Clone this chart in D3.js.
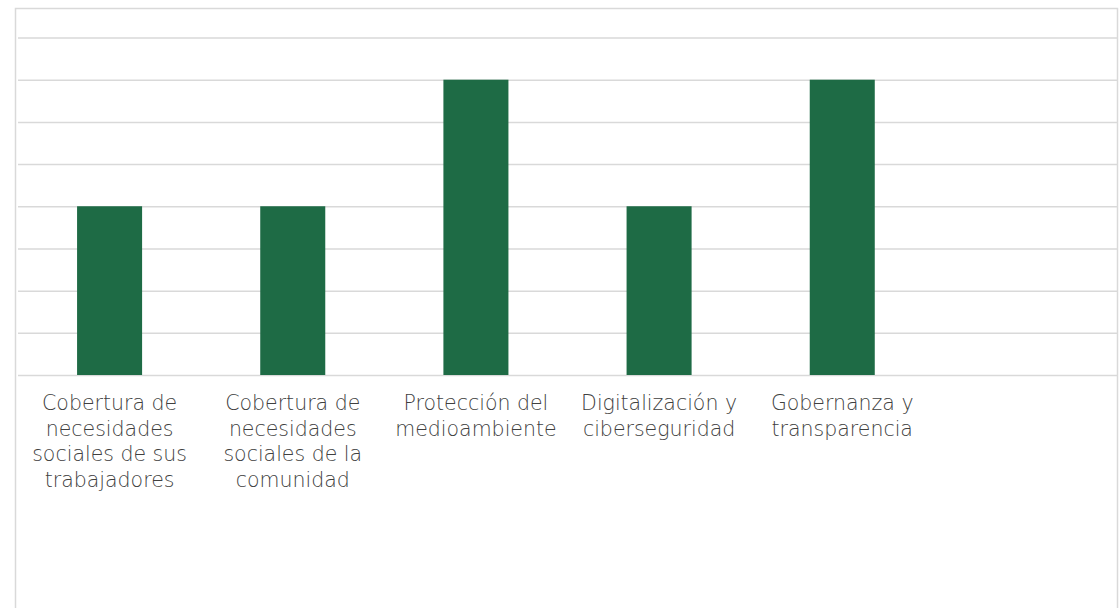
<!DOCTYPE html>
<html>
<head>
<meta charset="utf-8">
<script src="https://cdn.jsdelivr.net/npm/d3@7"></script>
<style>
  html, body { margin: 0; padding: 0; background: #fff; }
  svg { display: block; }
  .tick-label { font-family: "DejaVu Sans", sans-serif; font-weight: 200; fill: #404040; }
</style>
</head>
<body>
<svg class="chart"></svg>
<script>
// categories (6th slot is empty in the original)
var categories = ["c1", "c2", "c3", "c4", "c5", "c6"];
var categoryLabels = [
	["Cobertura de", "necesidades", "sociales de sus", "trabajadores"],
	["Cobertura de", "necesidades", "sociales de la", "comunidad"],
	["Protección del", "medioambiente"],
	["Digitalización y", "ciberseguridad"],
	["Gobernanza y", "transparencia"],
	[]
];
var values = [4, 4, 7, 4, 7, null];
var yTicks = [0, 1, 2, 3, 4, 5, 6, 7, 8];

var chart = {
	initialize: function(){
		var self = this;
		self._render_view();
		return self;
	},
	_render_view: function(){
		var width = 1120, height = 608;
		var svg = d3.select('svg.chart')
			.attr('width', width)
			.attr('height', height);

		// outer frame
		svg.append('rect')
			.attr('x', 15.5).attr('y', 8.5)
			.attr('width', 1102).attr('height', 640)
			.attr('fill', '#fff')
			.attr('stroke', '#d9d9d9')
			.attr('stroke-width', 1.5);

		var left = 18, right = 1117, top = 37.5, bottom = 375;

		var x = d3.scaleBand()
			.domain(categories)
			.range([left, right])
			.paddingInner(0.645)
			.paddingOuter(0.3225);
		var y = d3.scaleLinear()
			.domain([0, 8])
			.range([bottom, top]);

		// gridlines
		var grid = svg.append('g')
			.attr('transform', 'translate(' + left + ',0)')
			.call(d3.axisLeft(y).tickValues(yTicks).tickSize(-(right - left)).tickFormat(''));
		grid.select('.domain').remove();
		grid.selectAll('.tick line')
			.attr('stroke', '#d9d9d9')
			.attr('stroke-width', 1.5);

		// bars
		svg.selectAll('.bar')
			.data(values.map(function(v, i){ return {k: categories[i], v: v}; }).filter(function(d){ return d.v != null; }))
			.enter()
			.append('rect')
			.attr('class', 'bar')
			.attr('x', function(d){ return x(d.k); })
			.attr('width', x.bandwidth())
			.attr('y', function(d){ return y(d.v); })
			.attr('height', function(d){ return y(0) - y(d.v); })
			.attr('fill', '#1e6b45');

		// category labels
		var labels = svg.selectAll('.tick-label')
			.data(categories)
			.enter()
			.append('text')
			.attr('class', 'tick-label')
			.attr('text-anchor', 'middle')
			.attr('font-size', 20.5)
			.attr('x', function(d){ return x(d) + x.bandwidth() / 2; })
			.attr('y', 410);
		labels.each(function(d, i){
			var t = d3.select(this);
			categoryLabels[i].forEach(function(line, j){
				t.append('tspan')
					.attr('x', x(d) + x.bandwidth() / 2)
					.attr('dy', j === 0 ? 0 : 25.7)
					.text(line);
			});
		});
	}
};
chart.initialize();
</script>
</body>
</html>
